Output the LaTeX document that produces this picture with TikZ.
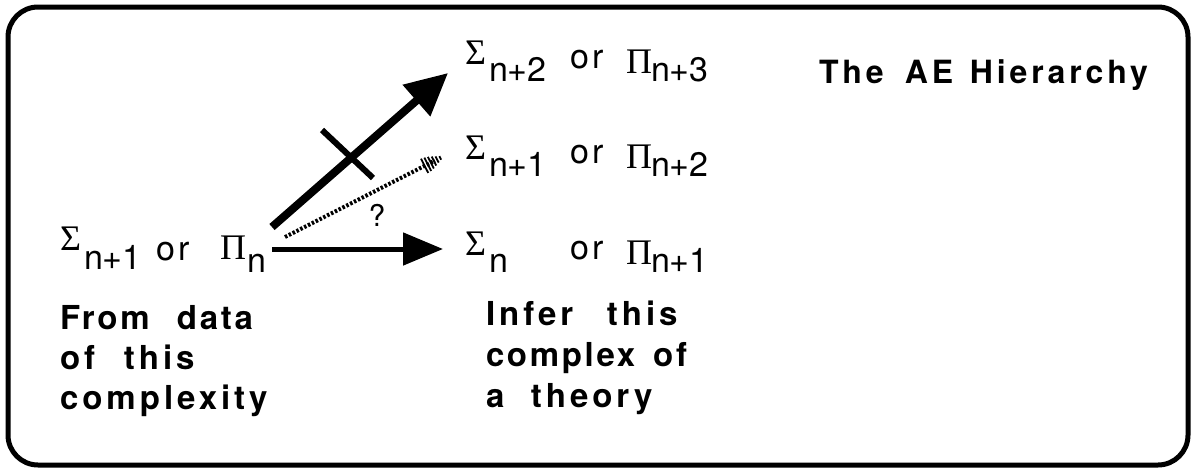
\documentclass[tikz,border=0pt]{standalone}
\usepackage{fontspec}
\setmainfont{TeX Gyre Heros}
\newfontfamily\symf{Liberation Serif}
\newfontfamily\trkf[LetterSpace=12]{TeX Gyre Heros}
\newfontfamily\trkfb[LetterSpace=8]{TeX Gyre Heros}
\usetikzlibrary{arrows.meta,calc}

\newcommand\subsz{\fontsize{34pt}{38pt}\selectfont}
\newcommand\grsz{\symf\fontsize{36pt}{38pt}\selectfont}
\newcommand\lblsz{\fontsize{33pt}{40pt}\selectfont\trkf\bfseries}
\newcommand\lblszn{\fontsize{33pt}{40pt}\selectfont\trkfb\bfseries}
\newcommand\ttlsz{\fontsize{32pt}{38pt}\selectfont\trkf\bfseries}
\newcommand\SProw[2]{%
  \makebox[24pt][l]{\raisebox{4pt}{\grsz Σ}}%
  \makebox[81pt][l]{\raisebox{-13pt}{\subsz #1}}%
  \makebox[56pt][l]{\subsz\trkf or}%
  \makebox[25pt][l]{\raisebox{-5pt}{\grsz Π}}%
  \raisebox{-13pt}{\subsz #2}}
\newcommand\wordbox[2]{\makebox[#1pt][l]{#2}}

\tikzset{
  txt/.style={anchor=base west, inner sep=0pt, outer sep=0pt},
  frame/.style={line width=5pt, rounded corners=30pt},
  bigarrow/.style={line width=8pt, -{Triangle[length=42pt,width=40pt]}},
  arrowb/.style={line width=5pt, -{Triangle[length=40pt,width=32pt]}},
  crossline/.style={line width=6pt},
  dotline/.style={line width=4pt, dash pattern=on 2.5pt off 1.8pt},
  hatch/.style={line width=1.8pt}
}

\begin{document}
\begin{tikzpicture}[x=1pt,y=-1pt]
\useasboundingbox (0,0) rectangle (1191,469);
\draw[frame] (8,7) rectangle (1188,465);

% rows on the right
\node[txt] (r1) at (465,68) {\SProw{n+2}{n+3}};
\node[txt] (r2) at (465,163) {\SProw{n+1}{n+2}};
\node[txt] (r3) at (465,259) {\SProw{n}{n+1}};

% left row
\node[txt] (l1) at (60,260) {%
  \makebox[24pt][l]{\raisebox{10pt}{\grsz Σ}}%
  \makebox[72pt][l]{\raisebox{-9pt}{\subsz n+1}}%
  \makebox[64pt][l]{\subsz\trkf or}%
  \makebox[27pt][l]{\raisebox{1pt}{\grsz Π}}%
  \raisebox{-12pt}{\subsz n}};

% title
\node[txt] (title) at (819,83) {\ttlsz\wordbox{86}{The}\wordbox{65}{AE}Hierarchy};

% left labels
\node[txt] (la) at (60,329) {\lblszn\wordbox{117}{From}data};
\node[txt] (lb) at (60,369) {\lblsz\wordbox{64}{of}this};
\node[txt] (lc) at (60,409) {\lblsz complexity};

% right labels
\node[txt] (ra) at (486,325) {\lblsz\wordbox{121}{Infer}this};
\node[txt] (rb) at (486,366) {\lblszn complex\hspace{18pt}of};
\node[txt] (rc) at (486,407) {\lblsz\wordbox{45}{a}theory};

% question mark
\node[inner sep=0pt] (q) at (377,215) {\fontsize{30pt}{32pt}\selectfont ?};

% connectors
\coordinate (s1) at (272,227);
\coordinate (t1) at (448,73);
\coordinate (s2) at (285,237);
\coordinate (t2) at (442,157);
\coordinate (s3) at (272,249);
\coordinate (t3) at (443,249);
\coordinate (x1) at (322,130);
\coordinate (x2) at (373,178);

\draw[bigarrow] (s1) -- (t1);
\draw[crossline] (x1) -- (x2);
\draw[arrowb] (s3) -- (t3);
\draw[dotline] (s2) -- ($(t2)!8pt!(s2)$);
\foreach \i/\d/\h in {1/2/2,2/5.5/3.5,3/9/5,4/12.5/6.5,5/16/7.5,6/19.5/8}{
  \coordinate (h\i) at ($(t2)!\d pt!(s2)$);
  \draw[hatch] ($(h\i)!\h pt!90:(t2)$) -- ($(h\i)!\h pt!-90:(t2)$);
}
\end{tikzpicture}
\end{document}
